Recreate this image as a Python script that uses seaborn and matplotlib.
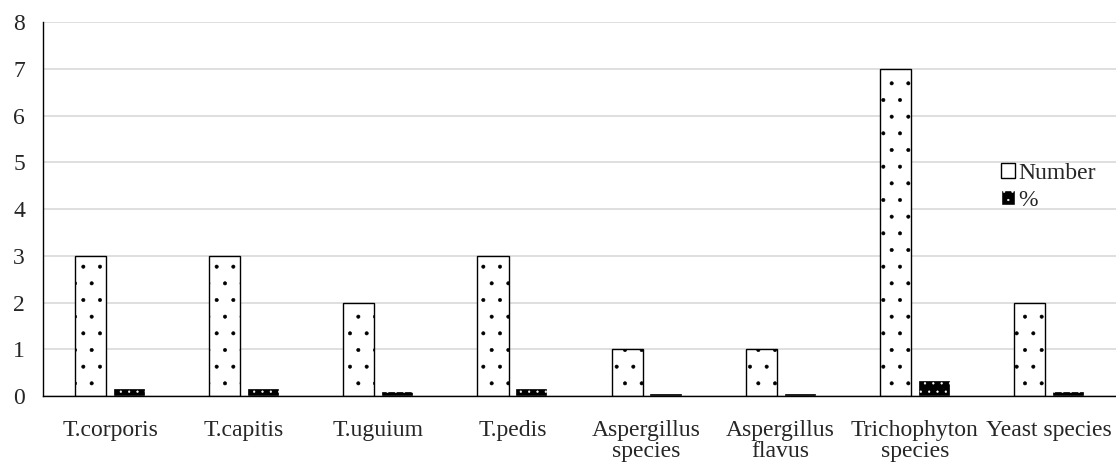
import matplotlib
matplotlib.use("Agg")
import matplotlib.pyplot as plt
import seaborn as sns
import pandas as pd
from matplotlib.patches import Patch

categories = ["T.corporis", "T.capitis", "T.uguium", "T.pedis",
              "Aspergillus\nspecies", "Aspergillus\nflavus",
              "Trichophyton\nspecies", "Yeast species"]
number_values = [3, 3, 2, 3, 1, 1, 7, 2]
percent_values = [0.14, 0.14, 0.09, 0.14, 0.05, 0.05, 0.32, 0.09]
series_names = ["Number", "%"]

df = pd.DataFrame({
    "category": categories * 2,
    "value": number_values + percent_values,
    "series": [series_names[0]] * len(categories) + [series_names[1]] * len(categories),
})

sns.set_style("white")
plt.rcParams["font.family"] = ["Liberation Serif", "DejaVu Serif"]
plt.rcParams["hatch.linewidth"] = 0.4

fig = plt.figure(figsize=(11.16, 4.63), dpi=100)
ax = fig.add_axes([0.0385, 0.1447, 0.9615, 0.8075])

sns.barplot(data=df, x="category", y="value", hue="series", order=categories,
            hue_order=series_names, width=0.58, gap=0.2, ax=ax,
            palette=["white", "black"], legend=False, saturation=1)

n = len(categories)
for i, p in enumerate(ax.patches[:2 * n]):
    if i < n:
        p.set_facecolor("white")
        p.set_edgecolor("black")
        p.set_hatch(".")
        p.set_linewidth(1.0)
    else:
        p.set_facecolor("black")
        p.set_edgecolor("white")
        p.set_hatch("..")
        p.set_linewidth(0.2)

ax.set_ylim(0, 8)
ax.set_xlim(-0.5, n - 0.5)
ax.set_yticks(range(0, 9))
ax.grid(axis="y", color="#d9d9d9", linewidth=1.2)
ax.set_axisbelow(True)
for s in ["top", "right"]:
    ax.spines[s].set_visible(False)
ax.spines["left"].set_color("black")
ax.spines["bottom"].set_color("black")
ax.spines["left"].set_linewidth(1.0)
ax.spines["bottom"].set_linewidth(1.0)
ax.tick_params(axis="both", length=0, labelsize=17)
ax.tick_params(axis="y", pad=13)
ax.tick_params(axis="x", pad=17)
ax.set_xlabel("")
ax.set_ylabel("")
for lbl in ax.get_xticklabels():
    lbl.set_linespacing(1.05)

handles = [Patch(facecolor="white", edgecolor="black", label="Number"),
           Patch(facecolor="black", edgecolor="white", hatch="..", label="%")]
ax.legend(handles=handles, loc="center left", bbox_to_anchor=(0.884, 0.56),
          frameon=False, fontsize=17, handlelength=0.6, handleheight=0.6,
          handletextpad=0.15, labelspacing=0.25, borderaxespad=0)

fig.savefig("out.png", dpi=100)
